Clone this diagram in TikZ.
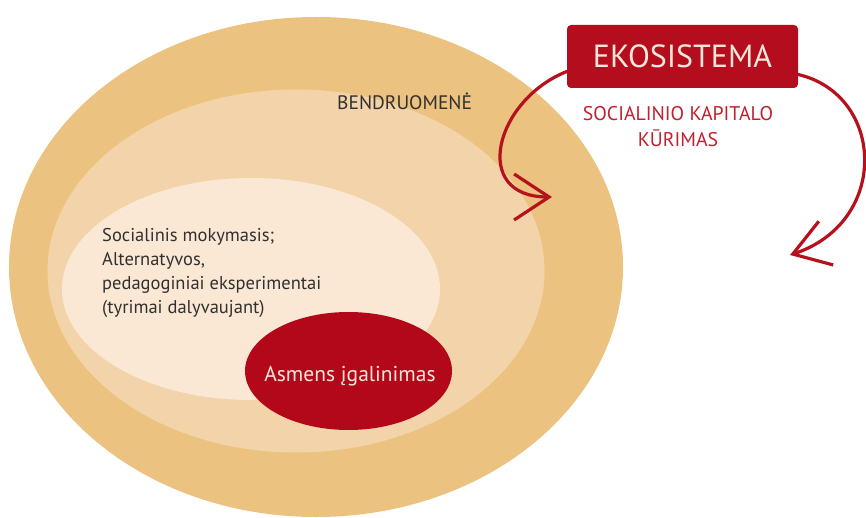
\documentclass[tikz,border=0pt]{standalone}
\usepackage{fontspec}
\setmainfont{PT Sans}
\usetikzlibrary{shapes.geometric,arrows.meta}
\definecolor{outerc}{RGB}{236,194,128}
\definecolor{middlec}{RGB}{243,212,170}
\definecolor{innerc}{RGB}{250,232,213}
\definecolor{redc}{RGB}{178,8,26}
\definecolor{boxc}{RGB}{180,14,30}
\definecolor{creamc}{RGB}{246,230,218}
\definecolor{subc}{RGB}{192,32,48}
\definecolor{arrowc}{RGB}{182,18,30}
\definecolor{textc}{RGB}{50,48,46}
\tikzset{
  blob/.style={ellipse, draw=none, inner sep=0pt},
  darktext/.style={text=textc, inner sep=0pt},
  loop/.style={draw=arrowc, line width=3.2pt, line cap=round,
    -{Straight Barb[length=35pt, width=46pt, line width=3.2pt]}}
}
\begin{document}
\begin{tikzpicture}[x=1pt, y=-1pt]
\useasboundingbox (0,0) rectangle (866,518);
\fill[white] (0,0) rectangle (866,518);
% ellipses
\node[blob, fill=outerc, minimum width=614pt, minimum height=500pt] (outer) at (316,267) {};
\node[blob, fill=middlec, minimum width=497pt, minimum height=363pt] (middle) at (296,271) {};
\node[blob, fill=innerc, minimum width=378pt, minimum height=222pt] (inner) at (251,289) {};
\node[blob, fill=redc, minimum width=207pt, minimum height=118pt] (person) at (348.5,371) {};
% texts
\node[darktext, anchor=base west, font=\fontsize{19.5}{22}\selectfont] (bendr) at (337,110) {BENDRUOMENĖ};
\node[darktext, anchor=north west, align=left, font=\fontsize{18.5}{24}\selectfont] (social) at (102,228)
  {Socialinis mokymasis;\\Alternatyvos,\\pedagoginiai eksperimentai\\(tyrimai dalyvaujant)};
\node[text=creamc, inner sep=0pt, font=\fontsize{21.5}{24}\selectfont] (personlabel) at (350,376) {Asmens įgalinimas};
% ecosystem box
\node[fill=boxc, rounded corners=4pt, minimum width=231pt, minimum height=63pt, inner sep=0pt,
  text=creamc, font=\fontsize{32}{34}\selectfont] (eko) at (682.5,56.5) {EKOSISTEMA};
\node[text=subc, inner sep=0pt, align=center, font=\fontsize{19.8}{26}\selectfont] (sub) at (678,127)
  {SOCIALINIO KAPITALO\\KŪRIMAS};
% arrows
\coordinate (tipL) at (552,197);
\coordinate (tipR) at (790,255);
\draw[loop] ([yshift=-15pt]eko.west) .. controls (495,100) and (470,197) .. (tipL);
\draw[loop] ([yshift=-18pt]eko.east) .. controls (885,95) and (890,222) .. (tipR);
\end{tikzpicture}
\end{document}
